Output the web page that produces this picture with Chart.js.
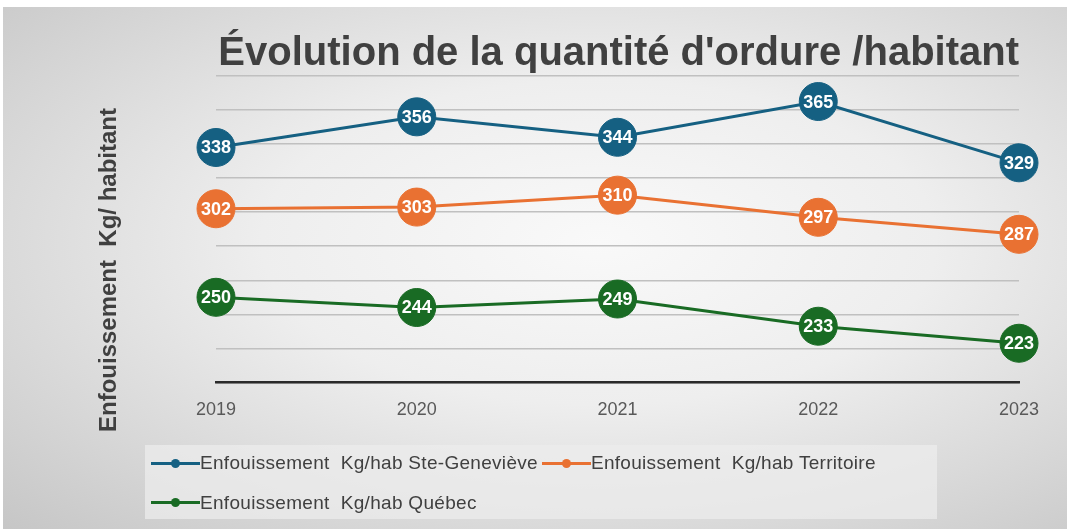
<!DOCTYPE html>
<html lang="fr">
<head>
<meta charset="utf-8">
<title>Évolution de la quantité d'ordure /habitant</title>
<script src="https://cdn.jsdelivr.net/npm/chart.js@4.4.1/dist/chart.umd.min.js"></script>
<style>
    html, body {
        margin: 0;
        padding: 0;
        background: #ffffff;
        width: 1067px;
        height: 529px;
        overflow: hidden;
    }
    #bg {
        position: absolute;
        left: 3px;
        top: 7px;
        width: 1064px;
        height: 522px;
        background: radial-gradient(ellipse farthest-corner at 56% 45%, #f9f9f9 0%, #eeeeee 40%, #c6c6c6 100%);
    }
    #wrap {
        position: absolute;
        left: 0;
        top: 0;
        width: 1067px;
        height: 529px;
    }
    #legend {
        position: absolute;
        left: 145px;
        top: 445px;
        width: 786px;
        height: 66px;
        padding: 8px 0 0 6px;
        background: rgba(236, 236, 236, 0.75);
        display: flex;
        flex-wrap: wrap;
        row-gap: 13px;
        column-gap: 4px;
        font-family: "Liberation Sans", Arial, sans-serif;
        font-size: 19px;
        letter-spacing: 0.3px;
        color: #404040;
    }
    .item {
        display: flex;
        align-items: center;
        height: 20px;
        white-space: pre;
    }
    .icon {
        position: relative;
        width: 49px;
        height: 20px;
    }
    .icon .ln {
        position: absolute;
        left: 0;
        right: 0;
        top: 8.5px;
        height: 3px;
    }
    .icon .dot {
        position: absolute;
        left: 20px;
        top: 5.5px;
        width: 9px;
        height: 9px;
        border-radius: 50%;
    }
</style>
</head>
<body>
<div id="bg"></div>
<div id="wrap"><canvas id="lineChart"></canvas></div>
<div id="legend"></div>

<script>
// data
const years = ['2019', '2020', '2021', '2022', '2023'];
const steGenevieve = [338, 356, 344, 365, 329];
const territoire = [302, 303, 310, 297, 287];
const quebec = [250, 244, 249, 233, 223];
const seriesLabels = [
    'Enfouissement  Kg/hab Ste-Geneviève',
    'Enfouissement  Kg/hab Territoire',
    'Enfouissement  Kg/hab Québec'
];
const chartTitle = "Évolution de la quantité d'ordure /habitant";
const yAxisTitle = 'Enfouissement  Kg/ habitant';
const yMin = 200;
const yMax = 380;
const yStep = 20;

const seriesColors = ['#156082', '#E97132', '#196B24'];
const seriesValues = [steGenevieve, territoire, quebec];

// white value inside every marker
const valueLabels = {
    id: 'valueLabels',
    afterDatasetsDraw(chart) {
        const ctx = chart.ctx;
        ctx.save();
        ctx.font = 'bold 18px "Liberation Sans", Arial, sans-serif';
        ctx.fillStyle = '#ffffff';
        ctx.textAlign = 'center';
        ctx.textBaseline = 'middle';
        chart.data.datasets.forEach((ds, i) => {
            const meta = chart.getDatasetMeta(i);
            meta.data.forEach((pt, j) => {
                ctx.fillText(String(ds.data[j]), pt.x, pt.y + 1);
            });
        });
        ctx.restore();
    }
};

// rotated axis title, sitting lower than the plot centre like the original
const sideTitle = {
    id: 'sideTitle',
    afterDraw(chart) {
        const ctx = chart.ctx;
        ctx.save();
        ctx.translate(109, 270);
        ctx.rotate(-Math.PI / 2);
        ctx.font = 'bold 24px "Liberation Sans", Arial, sans-serif';
        ctx.fillStyle = '#404040';
        ctx.textAlign = 'center';
        ctx.textBaseline = 'middle';
        ctx.fillText(yAxisTitle, 0, 0);
        ctx.restore();
    }
};

const datasets = seriesValues.map((values, i) => ({
    label: seriesLabels[i],
    data: values,
    borderColor: seriesColors[i],
    backgroundColor: seriesColors[i],
    borderWidth: 3,
    pointRadius: 19,
    pointHoverRadius: 19,
    pointBackgroundColor: seriesColors[i],
    pointBorderColor: seriesColors[i],
    pointBorderWidth: 1,
    tension: 0,
    clip: false
}));

const lineChart = new Chart(document.getElementById('lineChart'), {
    type: 'line',
    data: {
        labels: years,
        datasets: datasets
    },
    options: {
        responsive: true,
        maintainAspectRatio: false,
        animation: false,
        events: [],
        layout: {
            padding: { left: 216, right: 48, top: 32, bottom: 91 }
        },
        plugins: {
            legend: { display: false },
            tooltip: { enabled: false },
            title: {
                display: true,
                text: chartTitle,
                align: 'end',
                color: '#404040',
                padding: { top: 0, bottom: 0 },
                font: { family: '"Liberation Sans", Arial, sans-serif', size: 40, weight: 'bold', lineHeight: 1.1 }
            }
        },
        scales: {
            x: {
                offset: false,
                grid: { display: false, drawTicks: false },
                border: { display: true, color: '#2a2a2a', width: 2.5 },
                ticks: {
                    color: '#595959',
                    padding: 17,
                    font: { family: '"Liberation Sans", Arial, sans-serif', size: 18 }
                }
            },
            y: {
                min: yMin,
                max: yMax,
                grid: { color: '#c0c0c0', lineWidth: 1.5, drawTicks: false },
                border: { display: false },
                ticks: { display: false, stepSize: yStep }
            }
        }
    },
    plugins: [valueLabels, sideTitle]
});

// legend built from the chart datasets
const legendBox = document.getElementById('legend');
lineChart.data.datasets.forEach(ds => {
    const item = document.createElement('div');
    item.className = 'item';
    const icon = document.createElement('div');
    icon.className = 'icon';
    const ln = document.createElement('div');
    ln.className = 'ln';
    ln.style.background = ds.borderColor;
    const dot = document.createElement('div');
    dot.className = 'dot';
    dot.style.background = ds.borderColor;
    icon.appendChild(ln);
    icon.appendChild(dot);
    const txt = document.createElement('span');
    txt.textContent = ds.label;
    item.appendChild(icon);
    item.appendChild(txt);
    legendBox.appendChild(item);
});
</script>
</body>
</html>
